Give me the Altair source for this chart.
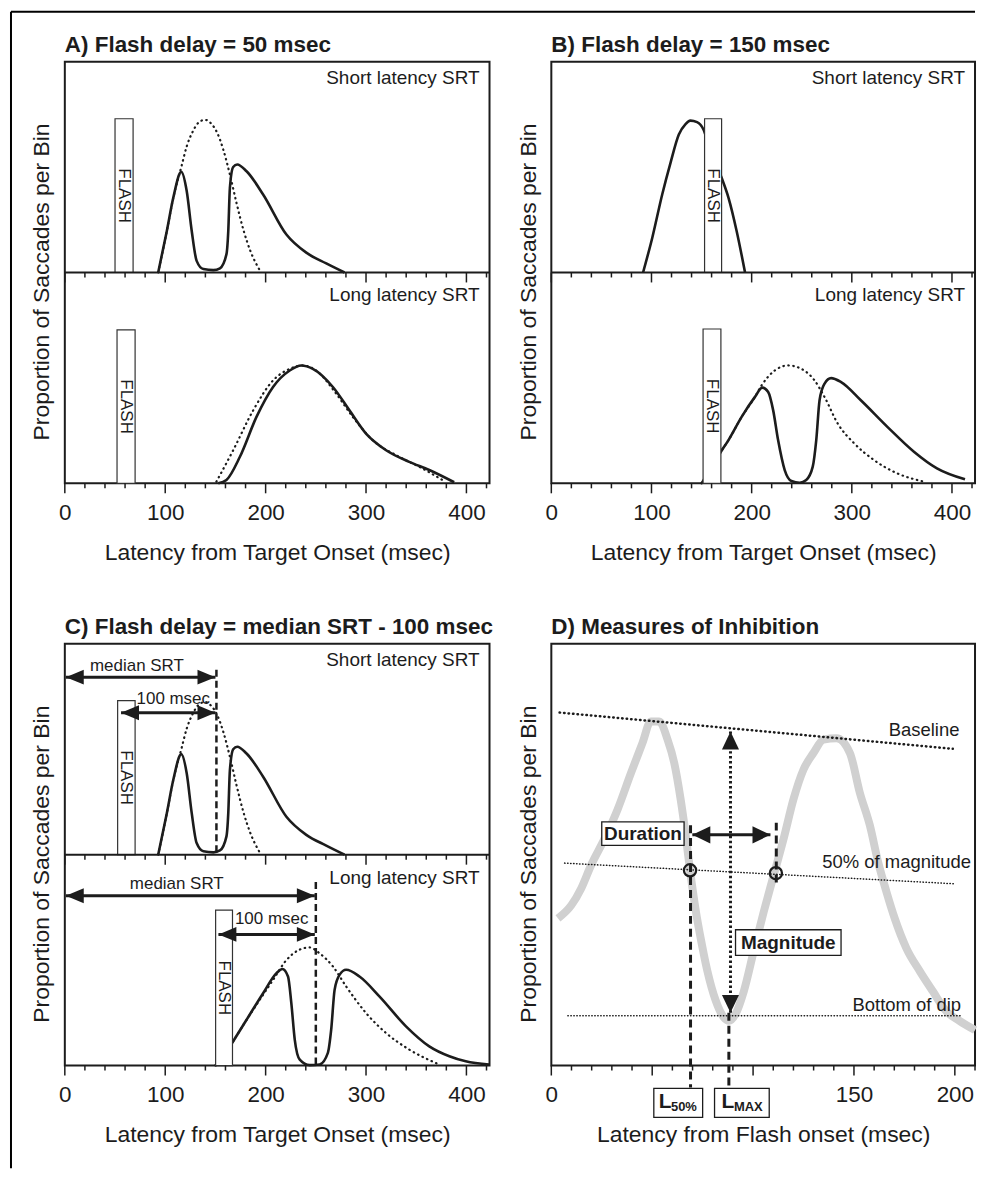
import altair as alt
import pandas as pd

FONT = "Liberation Sans"
INK = "#1c1c1c"
GREY = "#d0d0d0"

W_AC, W_BD, H = 426, 425, 423
SRT_XMAX, D_XMAX = 423, 210

XT1 = "Latency from Target Onset (msec)"
XT2 = "Latency from Flash onset (msec)"
YT = "Proportion of Saccades per Bin"

srt_tick_values = list(range(0, 421, 20))
srt_label_values = [0, 100, 200, 300, 400]
d_tick_values = list(range(0, 211, 10))
d_label_values = [0, 50, 100, 150, 200]

# ---------------- Panel A : flash delay = 50 msec ----------------
a_short_obs_t = [93, 101.6, 108, 116, 121.4, 126.4, 131.3, 138, 148, 154.5, 161, 162.8, 164.4, 167.7, 171.7, 181, 197.5, 220.7, 240.5, 260.4, 278.6]
a_short_obs_v = [0, 19.7, 35.4, 47.7, 38.6, 19.7, 5.5, 1.6, 1.1, 2, 8.7, 19.7, 40, 50, 51.2, 48, 37, 18, 9.4, 4.3, 0]
a_short_base_t = [93, 101.6, 108, 116, 121.4, 127.5, 133, 139.6, 146, 152, 158, 164.4, 171, 178, 185, 194.2]
a_short_base_v = [0, 19.7, 35.4, 50, 59.8, 66.9, 71, 72.4, 70.5, 66, 58, 46.5, 33, 20, 10, 1]
a_long_obs_t = [152.9, 161, 174.4, 190.9, 207.4, 224, 235.6, 247, 267, 283.5, 300, 320, 343, 363, 387.8]
a_long_obs_v = [0, 1.6, 12.6, 31.5, 45.7, 53.5, 55.9, 54.3, 45.7, 34.6, 23.6, 15.7, 10.2, 6.3, 0.5]
a_long_base_t = [151, 167.7, 187.6, 207.4, 224, 237.2, 250.4, 270.3, 286.8, 306.6, 333, 356, 376]
a_long_base_v = [0.8, 15.7, 34.6, 48.8, 54.3, 55.9, 53.5, 42.5, 31.5, 20.5, 12.6, 7.1, 1.6]
a_flash_start = [50, 52]
a_flash_end = [68, 70]
a_flash_top = [72.9, 72.8]

# ---------------- Panel B : flash delay = 150 msec ----------------
b_short_obs_t = [91.6, 100.8, 110.7, 119, 127.3, 134, 138.8, 145.5, 152, 157, 163.6, 170, 176.9, 185, 193.4]
b_short_obs_v = [0, 16.5, 37, 52, 65.4, 70.4, 72, 71.3, 67.7, 60.6, 52.8, 44.9, 35.4, 19.7, 0]
b_long_obs_t = [150, 160, 169.3, 176.9, 190, 203.3, 210.6, 216.5, 221.5, 226.4, 233, 239.7, 248, 254.5, 261, 264.5, 267.8, 272.7, 279.3, 289.3, 309, 335.5, 362, 385, 413]
b_long_obs_v = [0, 7.5, 15, 20.5, 31.5, 41, 45.4, 43.3, 34.6, 20.5, 6.3, 1.1, 0.3, 1.6, 7.9, 20.5, 39.4, 47.2, 49.9, 48, 39.4, 26.8, 15, 7.1, 1.9]
b_long_base_t = [150, 160, 169.3, 176.9, 190, 203.3, 210, 223, 236.4, 249.6, 262.8, 272.7, 286, 302.5, 322.3, 345.5, 372]
b_long_base_v = [0, 7.5, 15, 20.5, 31.5, 41, 46.5, 53.5, 55.9, 54.3, 48.8, 41, 28.3, 18.9, 11, 4.7, 0.8]
b_flash_start = [153, 151.5]
b_flash_end = [170, 169.3]
b_flash_top = [72.9, 73.2]

# ---------------- Panel C : flash delay = median SRT - 100 msec ----------------
c_short_obs_t = a_short_obs_t
c_short_obs_v = a_short_obs_v
c_short_base_t = a_short_base_t
c_short_base_v = a_short_base_v
c_long_obs_t = [150, 160, 167.7, 181, 197.5, 210.8, 216.7, 222.3, 225.6, 229, 234, 243.8, 253.8, 262, 265.3, 268.7, 273.6, 280.2, 293.5, 313.3, 339.8, 363, 383, 399.3, 422.5]
c_long_obs_v = [0, 5.5, 11.5, 21.7, 34.3, 43.8, 45.8, 42.2, 29.6, 12.3, 2.8, 0.2, 0.5, 6, 17, 35.9, 43, 45.4, 42.2, 32.8, 18.6, 9.1, 4.4, 2, 0.5]
c_long_base_t = [150, 160, 167.7, 187.6, 207.4, 220.7, 234, 243.8, 253.8, 267, 280.2, 300, 320, 343, 372.9]
c_long_base_v = [0, 5.5, 11.5, 26.5, 40.6, 50, 55, 56, 53.2, 47, 37.5, 24.9, 15.4, 7.6, 0.5]
c_flash_start = [52.6, 150.2]
c_flash_end = [70, 167]
c_flash_top = [73.1, 73.7]
c_arrow_start = [1, 56, 1, 153]
c_arrow_end = [150, 150, 249, 249]
c_arrow_level = [84.2, 67.3, 80.5, 62.2]
c_arrow_half = [1, 1, 0, 0]          # 1 = short-latency (upper) half
c_arrow_text = ["median SRT", "100 msec", "median SRT", "100 msec"]
c_text_t = [71.8, 108, 111.5, 206]
c_text_v = [89.7, 74, 86, 69.3]
c_dash_t = [151, 250]
c_dash_top = [87.7, 87]
c_dash_half = [1, 0]

# ---------------- Panel D : measures of inhibition ----------------
d_curve_t = [3.3, 9.9, 14.8, 19.7, 26.3, 32.9, 39.5, 45.2, 49.3, 53.5, 57.6, 60.9, 64.1, 66.5, 68.75, 71.5, 74.5, 77.3, 81.4, 85.5, 88, 91.3, 95.4, 100.3, 105.3, 110.2, 115.1, 120, 125, 129.9, 134.9, 141.4, 148, 152.9, 157.9, 162, 166.1, 170.2, 176, 182.6, 189.1, 195.7, 202.3, 210]
d_curve_v = [34.9, 38, 42, 47.5, 53.7, 60.8, 69.4, 76.5, 81.6, 81.6, 77.3, 71.8, 63.1, 55, 46.3, 37, 29, 22.5, 15.5, 11.4, 10.6, 12.2, 17.6, 27.1, 36.5, 45.1, 53.7, 63.1, 70.2, 74.1, 77.3, 77.6, 74.1, 64.7, 56.9, 48.2, 41.2, 34.9, 27.8, 22.4, 17.6, 12.9, 10.6, 8.4]
d_baseline_t = [4.1, 199]
d_baseline_v = [83.7, 75.1]
d_half_t = [6.6, 199.8]
d_half_v = [48, 43.1]
d_dip_t = [8.2, 203]
d_dip_v = [11.8, 11.8]
d_ref_label = ["Baseline", "50% of magnitude", "Bottom of dip"]
d_ref_label_t = [202.3, 208, 203.1]
d_ref_label_v = [79.5, 48.2, 14.4]
d_circle_t = [68.75, 111.3]
d_circle_v = [46.3, 45.6]
d_dur_start, d_dur_end, d_dur_level = 69.9, 108.6, 54.7
d_mag_t, d_mag_low, d_mag_high = 88.8, 12.5, 79.2
d_l50_t, d_l50_top = 69, 57
d_lmax_t, d_lmax_top = 88, 12.5
d_right_t, d_right_top, d_right_bottom = 111.5, 57.6, 42.4
d_box_label = ["Duration", "Magnitude"]
d_box_t1 = [25, 91.3]
d_box_t2 = [65.8, 143.6]
d_box_v1 = [52.2, 26.1]
d_box_v2 = [57.8, 32.2]
d_lbox_t1 = [50.8, 80.9]
d_lbox_t2 = [75, 108]
d_lbox_main_t = [53.3, 84.4]
d_lbox_sub = ["50%", "MAX"]
d_lbox_sub_t = [59.3, 90.5]

HEAD_L = "M0,0L2,-0.83L2,0.83Z"
HEAD_R = "M0,0L-2,-0.83L-2,0.83Z"
HEAD_L2 = "M0,0L2,-0.95L2,0.95Z"
HEAD_R2 = "M0,0L-2,-0.95L-2,0.95Z"
HEAD_U = "M0,0L-0.95,2L0.95,2Z"
HEAD_D = "M0,0L-0.95,-2L0.95,-2Z"


def x_axis(values, label_expr=None):
    kw = dict(values=values, ticks=False, domain=False, grid=False,
              labelPadding=18, titlePadding=18, labelFlush=False, labelOverlap=False)
    if label_expr:
        kw["labelExpr"] = label_expr
    return alt.Axis(**kw)


Y_AXIS = alt.Axis(labels=False, ticks=False, domain=False, grid=False,
                  titlePadding=11, titleY=H / 2 + 9)


def curve_df(specs):
    rows = []
    for name, ts, vs, off in specs:
        rows += [{"curve": name, "t": t, "v": v + off} for t, v in zip(ts, vs)]
    return pd.DataFrame(rows)


def flash_df(starts, ends, tops):
    offs = [100, 0]
    return pd.DataFrame({"t1": starts, "t2": ends, "v1": offs,
                         "v2": [tp + o for tp, o in zip(tops, offs)]})


def text_layer(label, px, py, size, weight="normal", align="left", baseline="alphabetic"):
    return alt.Chart(pd.DataFrame({"label": [label]})).mark_text(
        align=align, baseline=baseline, fontSize=size, fontWeight=weight, font=FONT, color=INK
    ).encode(x=alt.value(px), y=alt.value(py), text="label:N")


def tick_layers(values, major_mod, levels, X, YD):
    df = pd.DataFrame({"t": values})
    layers = []
    for lv in levels:
        for op, length in (("!=", 5), ("==", 10)):
            layers.append(
                alt.Chart(df).transform_filter(f"datum.t % {major_mod} {op} 0")
                .mark_rule(color=INK, strokeWidth=1.5, y2Offset=length)
                .encode(x=X("t"), y=YD(lv), y2=alt.Y2Datum(lv))
            )
    return layers


def arrow_layers(df, X, Y, head_a, head_b, size=324):
    shaft = alt.Chart(df).mark_rule(color=INK, strokeWidth=3).encode(
        x=X("t1"), x2=alt.X2("t2"), y=Y("v"))
    ha = alt.Chart(df).mark_point(shape=head_a, size=size, filled=True, opacity=1, color=INK).encode(
        x=X("t1"), y=Y("v"))
    hb = alt.Chart(df).mark_point(shape=head_b, size=size, filled=True, opacity=1, color=INK).encode(
        x=X("t2"), y=Y("v"))
    return [shaft, ha, hb]


def srt_panel(title, width, obs_specs, base_specs, flash, extras=None, border=False):
    xs = alt.Scale(domain=[0, SRT_XMAX], nice=False, zero=False)
    ys = alt.Scale(domain=[0, 200], nice=False, zero=False)
    xa = x_axis(srt_label_values)

    def X(f):
        return alt.X(f, type="quantitative", scale=xs, axis=xa, title=XT1)

    def Y(f):
        return alt.Y(f, type="quantitative", scale=ys, axis=Y_AXIS, title=YT)

    def YD(v):
        return alt.YDatum(v, scale=ys, axis=Y_AXIS, title=YT)

    layers = []
    if base_specs:
        layers.append(alt.Chart(curve_df(base_specs)).mark_line(
            color=INK, strokeWidth=2.2, strokeDash=[0.5, 4.5], strokeCap="round", interpolate="monotone"
        ).encode(x=X("t"), y=Y("v"), detail="curve:N"))
    layers.append(alt.Chart(curve_df(obs_specs)).mark_line(
        color=INK, strokeWidth=2.6, interpolate="monotone", strokeJoin="round"
    ).encode(x=X("t"), y=Y("v"), detail="curve:N"))
    layers.append(alt.Chart(flash).mark_rect(fill="white", stroke="#333", strokeWidth=1.2).encode(
        x=X("t1"), x2=alt.X2("t2"), y=Y("v1"), y2=alt.Y2("v2")))
    layers.append(alt.Chart(flash).transform_calculate(
        tm="(datum.t1 + datum.t2) / 2", vm="(datum.v1 + datum.v2) / 2"
    ).mark_text(text="FLASH", angle=90, fontSize=17, font=FONT, color=INK, align="center", baseline="middle"
                ).encode(x=X("tm"), y=Y("vm")))
    layers.append(alt.Chart(pd.DataFrame({"m": [100]})).mark_rule(color=INK, strokeWidth=2).encode(y=Y("m")))
    layers += tick_layers(srt_tick_values, 100, [0, 100], X, YD)
    if extras:
        layers += extras(X, Y)
    layers.append(text_layer("Short latency SRT", width - 10, 22, 19, align="right"))
    layers.append(text_layer("Long latency SRT", width - 10, H / 2 + 29, 19, align="right"))
    layers.append(text_layer(title, 0, -10, 22.5, weight="bold"))
    if border:
        bdf = pd.DataFrame({"b": [0]})
        layers.append(alt.Chart(bdf).mark_rule(color="black", strokeWidth=2).encode(
            x=alt.value(-54), y=alt.value(-50), y2=alt.value(1110)))
        layers.append(alt.Chart(bdf).mark_rule(color="black", strokeWidth=2).encode(
            x=alt.value(-54), x2=alt.value(913), y=alt.value(-50)))
    return alt.layer(*layers).properties(width=width, height=H)


def c_extras(X, Y):
    arr = pd.DataFrame({"t1": c_arrow_start, "t2": c_arrow_end,
                        "v": [lv + 100 * h for lv, h in zip(c_arrow_level, c_arrow_half)]})
    txt = pd.DataFrame({"t": c_text_t,
                        "v": [lv + 100 * h for lv, h in zip(c_text_v, c_arrow_half)],
                        "label": c_arrow_text})
    dash = pd.DataFrame({"t": c_dash_t,
                         "v1": [tp + 100 * h for tp, h in zip(c_dash_top, c_dash_half)],
                         "v2": [100 * h for h in c_dash_half]})
    out = [alt.Chart(dash).mark_rule(color=INK, strokeWidth=2.5, strokeDash=[7, 4]).encode(
        x=X("t"), y=Y("v1"), y2=alt.Y2("v2"))]
    out += arrow_layers(arr, X, Y, HEAD_L, HEAD_R)
    out.append(alt.Chart(txt).mark_text(fontSize=17, font=FONT, color=INK, align="center", baseline="middle").encode(
        x=X("t"), y=Y("v"), text="label:N"))
    return out


def d_panel():
    xs = alt.Scale(domain=[0, D_XMAX], nice=False, zero=False)
    ys = alt.Scale(domain=[0, 100], nice=False, zero=False)
    xa = x_axis(d_label_values, "datum.value == 50 || datum.value == 100 ? '' : datum.label")

    def X(f):
        return alt.X(f, type="quantitative", scale=xs, axis=xa, title=XT2)

    def Y(f):
        return alt.Y(f, type="quantitative", scale=ys, axis=Y_AXIS, title=YT)

    def YD(v):
        return alt.YDatum(v, scale=ys, axis=Y_AXIS, title=YT)

    layers = []
    layers.append(alt.Chart(pd.DataFrame({"t": d_curve_t, "v": d_curve_v})).mark_line(
        color=GREY, strokeWidth=8, interpolate="monotone", strokeJoin="round").encode(x=X("t"), y=Y("v")))
    layers.append(alt.Chart(pd.DataFrame({"t": d_baseline_t, "v": d_baseline_v})).mark_line(
        color=INK, strokeWidth=2.5, strokeDash=[0.5, 4], strokeCap="round").encode(x=X("t"), y=Y("v")))
    for ts, vs in ((d_half_t, d_half_v), (d_dip_t, d_dip_v)):
        layers.append(alt.Chart(pd.DataFrame({"t": ts, "v": vs})).mark_line(
            color=INK, strokeWidth=1.5, strokeDash=[0.4, 2.6], strokeCap="round").encode(x=X("t"), y=Y("v")))
    layers.append(alt.Chart(pd.DataFrame({"t": d_ref_label_t, "v": d_ref_label_v, "label": d_ref_label})).mark_text(
        fontSize=18.5, font=FONT, color=INK, align="right", baseline="middle").encode(x=X("t"), y=Y("v"), text="label:N"))
    # dashed latency markers
    layers.append(alt.Chart(pd.DataFrame({"t": [d_l50_t, d_lmax_t], "v": [d_l50_top, d_lmax_top]})).mark_rule(
        color=INK, strokeWidth=3, strokeDash=[8, 5]).encode(x=X("t"), y=Y("v"), y2=alt.value(H + 22)))
    layers.append(alt.Chart(pd.DataFrame({"t": [d_right_t], "v1": [d_right_top], "v2": [d_right_bottom]})).mark_rule(
        color=INK, strokeWidth=3, strokeDash=[8, 5]).encode(x=X("t"), y=Y("v1"), y2=alt.Y2("v2")))
    # magnitude arrow (dotted)
    mag = pd.DataFrame({"t": [d_mag_t], "lo": [d_mag_low], "hi": [d_mag_high]})
    layers.append(alt.Chart(mag).mark_rule(color=INK, strokeWidth=3, strokeDash=[2.5, 2.5]).encode(
        x=X("t"), y=Y("lo"), y2=alt.Y2("hi")))
    layers.append(alt.Chart(mag).mark_point(shape=HEAD_U, size=324, filled=True, opacity=1, color=INK).encode(
        x=X("t"), y=Y("hi")))
    layers.append(alt.Chart(mag).mark_point(shape=HEAD_D, size=324, filled=True, opacity=1, color=INK).encode(
        x=X("t"), y=Y("lo")))
    # duration arrow
    dur = pd.DataFrame({"t1": [d_dur_start], "t2": [d_dur_end], "v": [d_dur_level]})
    layers += arrow_layers(dur, X, Y, HEAD_L2, HEAD_R2)
    # circles
    layers.append(alt.Chart(pd.DataFrame({"t": d_circle_t, "v": d_circle_v})).mark_point(
        shape="circle", size=150, filled=False, stroke=INK, strokeWidth=2.3, opacity=1).encode(x=X("t"), y=Y("v")))
    # labelled boxes
    boxes = pd.DataFrame({"t1": d_box_t1, "t2": d_box_t2, "v1": d_box_v1, "v2": d_box_v2, "label": d_box_label})
    layers.append(alt.Chart(boxes).mark_rect(fill="white", stroke=INK, strokeWidth=1.3).encode(
        x=X("t1"), x2=alt.X2("t2"), y=Y("v1"), y2=alt.Y2("v2")))
    layers.append(alt.Chart(boxes).transform_calculate(
        tm="(datum.t1 + datum.t2) / 2", vm="(datum.v1 + datum.v2) / 2"
    ).mark_text(fontSize=19, fontWeight="bold", font=FONT, color=INK, align="center", baseline="middle").encode(
        x=X("tm"), y=Y("vm"), text="label:N"))
    # latency boxes below the axis
    lb = pd.DataFrame({"t1": d_lbox_t1, "t2": d_lbox_t2, "tm": d_lbox_main_t, "ts": d_lbox_sub_t, "sub": d_lbox_sub})
    layers.append(alt.Chart(lb).mark_rect(fill="white", stroke=INK, strokeWidth=1.3).encode(
        x=X("t1"), x2=alt.X2("t2"), y=alt.value(H + 23), y2=alt.value(H + 52)))
    layers.append(alt.Chart(lb).mark_text(text="L", fontSize=21, fontWeight="bold", font=FONT, color=INK,
                                          align="left", baseline="alphabetic").encode(x=X("tm"), y=alt.value(H + 43)))
    layers.append(alt.Chart(lb).mark_text(fontSize=13, fontWeight="bold", font=FONT, color=INK,
                                          align="left", baseline="alphabetic").encode(
        x=X("ts"), y=alt.value(H + 46), text="sub:N"))
    layers += tick_layers(d_tick_values, 50, [0], X, YD)
    layers.append(text_layer("D) Measures of Inhibition", 0, -10, 22.5, weight="bold"))
    return alt.layer(*layers).properties(width=W_BD, height=H)


pa = srt_panel("A) Flash delay = 50 msec", W_AC,
               [("s", a_short_obs_t, a_short_obs_v, 100), ("l", a_long_obs_t, a_long_obs_v, 0)],
               [("s", a_short_base_t, a_short_base_v, 100), ("l", a_long_base_t, a_long_base_v, 0)],
               flash_df(a_flash_start, a_flash_end, a_flash_top), border=True)
pb = srt_panel("B) Flash delay = 150 msec", W_BD,
               [("s", b_short_obs_t, b_short_obs_v, 100), ("l", b_long_obs_t, b_long_obs_v, 0)],
               [("l", b_long_base_t, b_long_base_v, 0)],
               flash_df(b_flash_start, b_flash_end, b_flash_top))
pc = srt_panel("C) Flash delay = median SRT - 100 msec", W_AC,
               [("s", c_short_obs_t, c_short_obs_v, 100), ("l", c_long_obs_t, c_long_obs_v, 0)],
               [("s", c_short_base_t, c_short_base_v, 100), ("l", c_long_base_t, c_long_base_v, 0)],
               flash_df(c_flash_start, c_flash_end, c_flash_top), extras=c_extras)
pdd = d_panel()

chart = alt.concat(pa, pb, pc, pdd, columns=2, spacing={"row": 161, "column": 62}, bounds="flush").properties(
    padding={"left": 1, "top": 0, "right": 0, "bottom": 0}
).configure_view(stroke=INK, strokeWidth=2).configure_axis(
    labelFont=FONT, titleFont=FONT, labelFontSize=22.5, titleFontSize=23,
    labelColor=INK, titleColor=INK, titleFontWeight="normal"
)

chart.save("out.html", embed_options={"renderer": "svg", "actions": False})
